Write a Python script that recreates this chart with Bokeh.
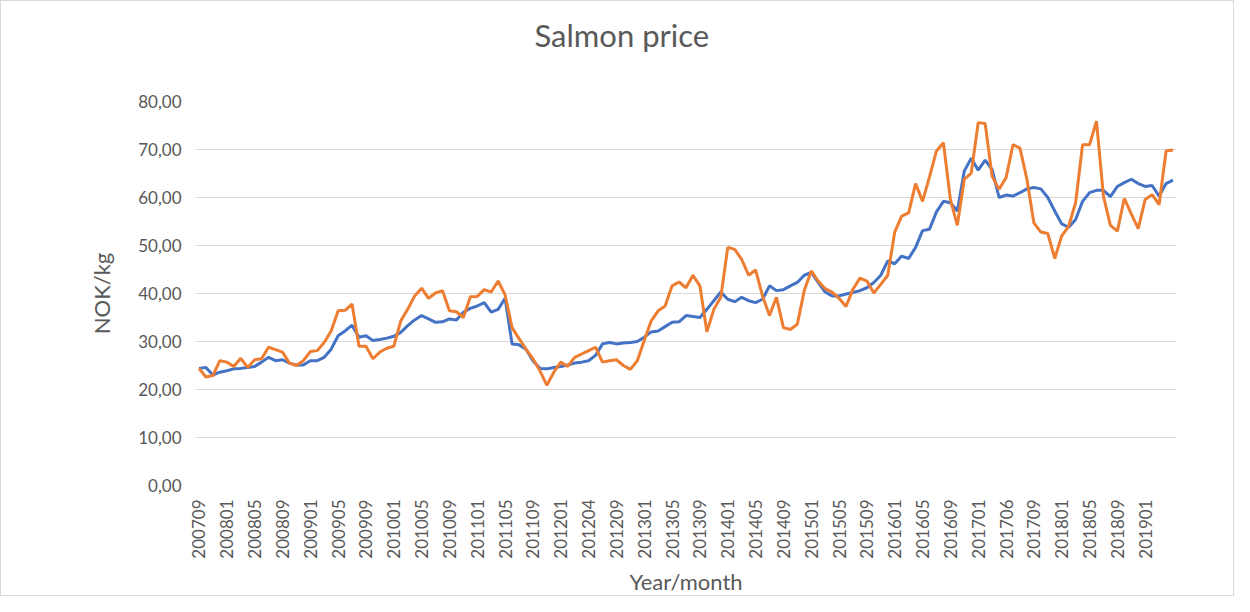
import math
from bokeh.plotting import figure
from bokeh.models import FixedTicker, ColumnDataSource, Range1d, Title
from bokeh.embed import file_html
from bokeh.resources import INLINE

tick_labels = ["200709", "200801", "200805", "200809", "200901", "200905", "200909",
               "201001", "201005", "201009", "201101", "201105", "201109", "201201",
               "201204", "201209", "201301", "201305", "201309", "201401", "201405",
               "201409", "201501", "201505", "201509", "201601", "201605", "201609",
               "201701", "201706", "201709", "201801", "201805", "201809", "201901"]

blue = [24.4, 24.6, 23.0, 23.6, 23.9, 24.3, 24.4, 24.6, 24.8, 25.7,
        26.7, 26.0, 26.2, 25.5, 25.1, 25.1, 26.0, 26.0, 26.7, 28.4,
        31.2, 32.2, 33.4, 30.9, 31.2, 30.2, 30.4, 30.7, 31.1, 31.9,
        33.3, 34.5, 35.4, 34.7, 34.0, 34.1, 34.7, 34.5, 36.1, 36.9,
        37.4, 38.1, 36.1, 36.7, 39.0, 29.5, 29.3, 28.4, 26.0, 24.4,
        24.3, 24.6, 24.8, 25.1, 25.5, 25.7, 26.0, 27.1, 29.5, 29.8,
        29.5, 29.7, 29.8, 30.0, 30.9, 32.0, 32.2, 33.1, 34.0, 34.1,
        35.4, 35.2, 35.0, 36.7, 38.5, 40.3, 38.8, 38.3, 39.2, 38.5,
        38.1, 38.8, 41.6, 40.6, 40.8, 41.6, 42.3, 43.8, 44.4, 42.3,
        40.3, 39.5, 39.5, 39.9, 40.2, 40.6, 41.2, 42.3, 43.8, 46.8,
        46.2, 47.8, 47.3, 49.6, 53.1, 53.4, 57.0, 59.2, 58.9, 57.2,
        65.5, 68.2, 65.7, 67.8, 65.8, 60.0, 60.5, 60.3, 61.0, 61.8,
        62.1, 61.8, 60.0, 57.2, 54.5, 53.8, 55.4, 59.2, 61.0, 61.5,
        61.5, 60.2, 62.3, 63.1, 63.8, 62.9, 62.3, 62.5, 60.3, 62.9,
        63.6]

orange = [24.4, 22.6, 22.9, 26.0, 25.7, 24.8, 26.5, 24.6, 26.2, 26.4,
          28.8, 28.3, 27.8, 25.5, 25.0, 26.0, 27.9, 28.1, 29.8, 32.2,
          36.4, 36.5, 37.8, 29.0, 29.0, 26.4, 27.8, 28.6, 29.0, 34.3,
          36.7, 39.5, 41.1, 39.0, 40.1, 40.6, 36.4, 36.2, 35.0, 39.3,
          39.4, 40.8, 40.3, 42.6, 39.7, 32.9, 30.6, 28.4, 26.4, 23.9,
          20.9, 23.6, 25.7, 24.8, 26.7, 27.4, 28.1, 28.8, 25.7, 26.0,
          26.2, 25.0, 24.2, 26.0, 30.2, 34.3, 36.4, 37.4, 41.6, 42.4,
          41.2, 43.8, 41.6, 32.0, 36.7, 39.2, 49.6, 49.2, 47.1, 43.8,
          44.9, 39.5, 35.4, 39.2, 32.9, 32.5, 33.6, 40.6, 44.7, 42.6,
          41.0, 40.3, 39.0, 37.3, 40.9, 43.2, 42.6, 40.1, 41.9, 43.8,
          52.8, 56.1, 56.8, 62.9, 59.2, 64.3, 69.7, 71.4, 59.6, 54.2,
          63.8, 65.1, 75.6, 75.4, 64.4, 61.7, 64.1, 71.0, 70.3, 63.8,
          54.7, 52.8, 52.5, 47.3, 52.0, 54.0, 58.9, 71.0, 71.0, 75.9,
          60.3, 54.2, 53.0, 59.8, 56.6, 53.5, 59.6, 60.6, 58.5, 69.7,
          69.9]

y_ticks = [0, 10, 20, 30, 40, 50, 60, 70, 80]
title_text = "Salmon price"

FONT = "Lato"
TXT = "#595959"

n = len(blue)
x = list(range(n))
src = ColumnDataSource(data=dict(x=x, blue=blue, orange=orange))

p = figure(width=1234, height=596, output_backend="svg", toolbar_location=None,
           x_range=Range1d(-0.5, n - 0.5), y_range=Range1d(0, 80),
           min_border_left=194, min_border_right=59, min_border_top=100,
           min_border_bottom=110)

p.line("x", "blue", source=src, line_color="#4472C4", line_width=3)
p.line("x", "orange", source=src, line_color="#ED7D31", line_width=3)

# invisible spacer next to the frame, then the visible title above it
spacer = Title(text=" ", text_font_size="10px", standoff=35, text_color="white")
p.add_layout(spacer, "above")
main_title = Title(text=title_text, align="left", offset=339, standoff=0,
                   text_font=FONT, text_font_size="31px", text_font_style="normal",
                   text_color=TXT)
p.add_layout(main_title, "above")

p.outline_line_color = None
p.background_fill_color = "white"
p.border_fill_color = "white"
p.styles = {"border": "1px solid #d9d9d9"}

p.xgrid.grid_line_color = None
p.ygrid.grid_line_color = "#d9d9d9"
p.ygrid.grid_line_width = 1

p.yaxis.ticker = FixedTicker(ticks=y_ticks)
p.yaxis.major_label_overrides = {t: f"{t},00" for t in y_ticks}
p.xaxis.ticker = FixedTicker(ticks=[4 * i for i in range(len(tick_labels))])
p.xaxis.major_label_overrides = {4 * i: lab for i, lab in enumerate(tick_labels)}
p.xaxis.major_label_orientation = math.pi / 2

for ax in (p.xaxis[0], p.yaxis[0]):
    ax.axis_line_color = None
    ax.major_tick_line_color = None
    ax.minor_tick_line_color = None
    ax.major_label_text_font = FONT
    ax.major_label_text_font_size = "17px"
    ax.major_label_text_color = TXT
    ax.axis_label_text_font = FONT
    ax.axis_label_text_font_size = "22px"
    ax.axis_label_text_font_style = "normal"
    ax.axis_label_text_color = TXT

p.xaxis.major_label_standoff = 8
p.yaxis.major_label_standoff = 8
p.xaxis.axis_label = "Year/month"
p.yaxis.axis_label = "NOK/kg"
p.xaxis.axis_label_standoff = 6
p.yaxis.axis_label_standoff = 20

open("out.html", "w").write(file_html(p, INLINE))
